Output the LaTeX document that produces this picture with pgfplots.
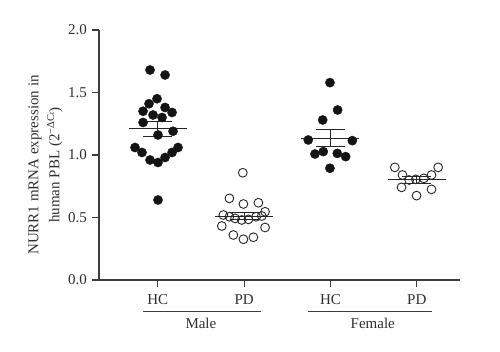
\documentclass[border=0pt]{standalone}
\usepackage{pgfplots}
\pgfplotsset{compat=1.18}
\usepackage{fontspec}
\setmainfont{Liberation Serif}
\definecolor{axgray}{HTML}{3C3C3C}
\definecolor{txtgray}{HTML}{2E2E2E}
\begin{document}
\fontsize{15}{21}\selectfont
\begin{tikzpicture}
\path[use as bounding box] (0,0) rectangle (500pt,352pt);
\begin{axis}[
  at={(99pt,72pt)}, anchor=south west,
  scale only axis, width=361pt, height=250pt,
  xmin=0.32, xmax=4.5, ymin=0, ymax=2,
  axis x line*=bottom, axis y line*=left,
  axis line style={-, axgray, line width=1.1pt},
  tick style={axgray, line width=1.1pt},
  tick align=outside, major tick length=7pt,
  xtick={1,2,3,4}, xticklabels={HC,PD,HC,PD},
  ytick={0,0.5,1,1.5,2},
  yticklabel style={/pgf/number format/.cd, fixed, fixed zerofill, precision=1},
  /pgf/number format/assume math mode=true,
  every tick label/.append style={font=\fontsize{15}{18}\selectfont, text=txtgray},
  xticklabel style={yshift=-2.5pt},
  ylabel={NURR1 mRNA expression in\\human PBL (2\textsuperscript{−ΔC{\fontsize{7.5}{8}\selectfont t}})},
  ylabel style={align=center, at={(axis description cs:-0.148,0.46)}, anchor=center,
    font=\fontsize{15}{21}\selectfont, text=txtgray},
  clip=false,
]
% Male HC
\addplot[only marks, mark=*, mark size=4.6pt, mark options={fill=black!92, draw=black!92}] coordinates {
(0.911,1.68) (1.085,1.64) (0.992,1.45) (0.899,1.41) (1.085,1.38) (0.830,1.35)
(1.166,1.34) (0.946,1.32) (1.050,1.30) (0.830,1.26) (1.177,1.19) (1.003,1.16)
(0.737,1.06) (1.235,1.06) (0.818,1.02) (1.166,1.02) (0.911,0.96) (1.085,0.98)
(1.003,0.94) (1.003,0.64)
};
% Male PD
\addplot[only marks, mark=o, mark size=4.4pt, mark options={draw=black!85, line width=0.9pt, fill=none}] coordinates {
(1.985,0.858) (1.830,0.653) (1.992,0.608) (2.166,0.618) (2.243,0.546) (1.760,0.520)
(1.830,0.506) (1.896,0.493) (1.973,0.480) (2.050,0.485) (2.139,0.506) (2.205,0.512)
(1.742,0.432) (2.243,0.420) (1.876,0.360) (1.992,0.326) (2.108,0.342)
};
% Female HC
\addplot[only marks, mark=*, mark size=4.6pt, mark options={fill=black!92, draw=black!92}] coordinates {
(2.994,1.579) (3.083,1.360) (2.910,1.280) (2.743,1.120) (3.253,1.115)
(2.820,1.008) (2.917,1.027) (3.079,1.013) (3.176,0.987) (2.994,0.894)
};
% Female PD
\addplot[only marks, mark=o, mark size=4.4pt, mark options={draw=black!85, line width=0.9pt, fill=none}] coordinates {
(3.745,0.901) (4.247,0.901) (3.834,0.840) (4.170,0.840) (3.911,0.800)
(3.988,0.805) (4.081,0.813) (3.823,0.741) (4.170,0.725) (3.997,0.675)
};
% mean and SEM lines
\addplot[black!85, line width=1pt, unbounded coords=jump] coordinates {
(0.664,1.21) (1.336,1.21) (1,nan)
(0.832,1.266) (1.168,1.266) (1,nan)
(0.832,1.150) (1.168,1.150) (1,nan)
(1,1.150) (1,1.266) (1,nan)
(1.664,0.51) (2.336,0.51) (2,nan)
(1.832,0.54) (2.168,0.54) (2,nan)
(1.832,0.48) (2.168,0.48) (2,nan)
(2,0.48) (2,0.54) (2,nan)
(2.664,1.135) (3.336,1.135) (3,nan)
(2.832,1.200) (3.168,1.200) (3,nan)
(2.832,1.067) (3.168,1.067) (3,nan)
(3,1.067) (3,1.200) (3,nan)
(3.664,0.80) (4.336,0.80) (4,nan)
(3.832,0.825) (4.168,0.825) (4,nan)
(3.832,0.775) (4.168,0.775) (4,nan)
(4,0.775) (4,0.825)
};
\draw[axgray, line width=1pt] (axis cs:0.83,-0.256) -- (axis cs:2.197,-0.256);
\draw[axgray, line width=1pt] (axis cs:2.742,-0.256) -- (axis cs:4.179,-0.256);
\node[text=txtgray, font=\fontsize{15}{18}\selectfont] at (axis cs:1.50,-0.344) {Male};
\node[text=txtgray, font=\fontsize{15}{18}\selectfont] at (axis cs:3.49,-0.344) {Female};
\end{axis}
\end{tikzpicture}
\end{document}
